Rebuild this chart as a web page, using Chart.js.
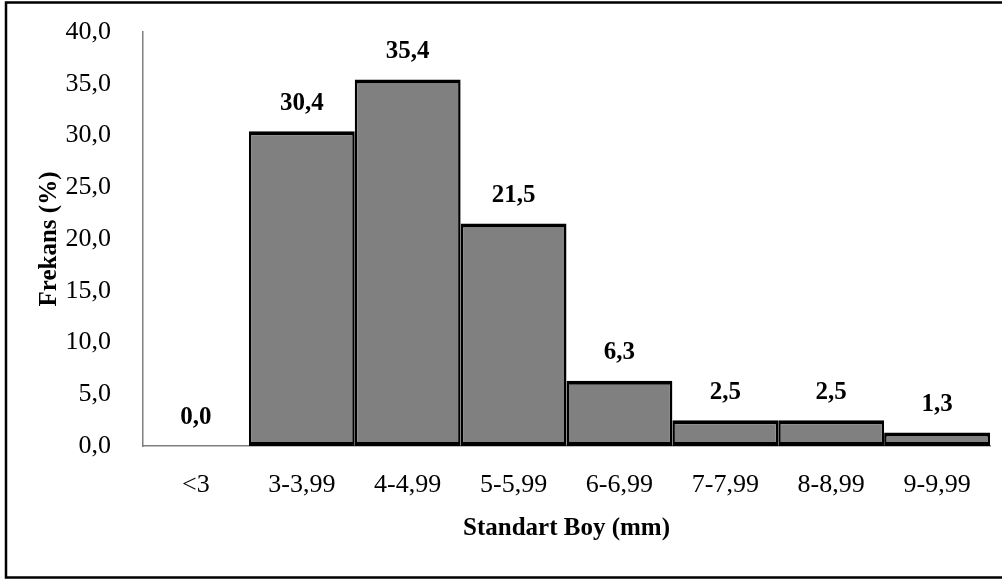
<!DOCTYPE html>
<html>
<head>
<meta charset="utf-8">
<script src="https://cdn.jsdelivr.net/npm/chart.js@4/dist/chart.umd.min.js"></script>
<style>
  html, body { margin: 0; padding: 0; background: #fff; }
  #wrap { width: 1002px; height: 580px; position: relative; }
</style>
</head>
<body>
<div id="wrap"><canvas id="chart"></canvas></div>
<script>
const categories = ['<3', '3-3,99', '4-4,99', '5-5,99', '6-6,99', '7-7,99', '8-8,99', '9-9,99'];
const frequency = [0.0, 30.4, 35.4, 21.5, 6.3, 2.5, 2.5, 1.3];
const yTicks = [0, 5, 10, 15, 20, 25, 30, 35, 40];

const fontFamily = '"Liberation Serif", "Times New Roman", serif';
const fmt = v => v.toFixed(1).replace('.', ',');

// outer frame of the figure
const framePlugin = {
  id: 'frame',
  afterDraw(chart) {
    const c = chart.ctx;
    c.save();
    c.strokeStyle = '#000';
    c.lineWidth = 2.5;
    c.strokeRect(6, 2.5, 1010, 575);
    c.restore();
  }
};

// value labels above bars
const valueLabels = {
  id: 'valueLabels',
  afterDatasetsDraw(chart) {
    const c = chart.ctx;
    const meta = chart.getDatasetMeta(0);
    c.save();
    c.font = 'bold 25px ' + fontFamily;
    c.fillStyle = '#000';
    c.textAlign = 'center';
    c.textBaseline = 'middle';
    meta.data.forEach((bar, i) => {
      c.fillText(fmt(frequency[i]), bar.x, bar.y - 28);
    });
    c.restore();
  }
};

new Chart(document.getElementById('chart'), {
  type: 'bar',
  data: {
    labels: categories,
    datasets: [{
      data: frequency,
      backgroundColor: '#808080',
      borderColor: '#000',
      borderWidth: { top: 4, left: 2.5, right: 2.5, bottom: 4 },
      borderSkipped: false,
      inflateAmount: 0,
      barPercentage: 1,
      categoryPercentage: 1
    }]
  },
  options: {
    responsive: true,
    maintainAspectRatio: false,
    animation: false,
    layout: { padding: { top: 32, right: 12, left: 0, bottom: 0 } },
    plugins: {
      legend: { display: false },
      tooltip: { enabled: false }
    },
    scales: {
      x: {
        grid: { display: false },
        border: { display: true, color: '#7f7f7f', width: 1.5 },
        ticks: {
          color: '#000',
          font: { family: fontFamily, size: 26 },
          padding: 16,
          maxRotation: 0,
          autoSkip: false
        },
        title: {
          display: true,
          text: 'Standart Boy (mm)',
          color: '#000',
          font: { family: fontFamily, size: 25, weight: 'bold' },
          padding: { bottom: 36 }
        },
        afterFit(scale) {
          scale.height = 580 - 446;
          scale.paddingLeft = 0;
          scale.paddingRight = 0;
        }
      },
      y: {
        min: 0,
        max: 40,
        afterBuildTicks(scale) { scale.ticks = yTicks.map(v => ({ value: v })); },
        grid: { display: false },
        border: { display: true, color: '#7f7f7f', width: 1.5 },
        ticks: {
          color: '#000',
          font: { family: fontFamily, size: 26 },
          padding: 24,
          callback: v => fmt(v)
        },
        title: {
          display: true,
          text: 'Frekans (%)',
          color: '#000',
          font: { family: fontFamily, size: 25, weight: 'bold' },
          padding: { top: 35 }
        },
        afterFit(scale) {
          scale.width = 143;
          scale.paddingTop = 0;
          scale.paddingBottom = 0;
        }
      }
    }
  },
  plugins: [valueLabels, framePlugin]
});
</script>
</body>
</html>
